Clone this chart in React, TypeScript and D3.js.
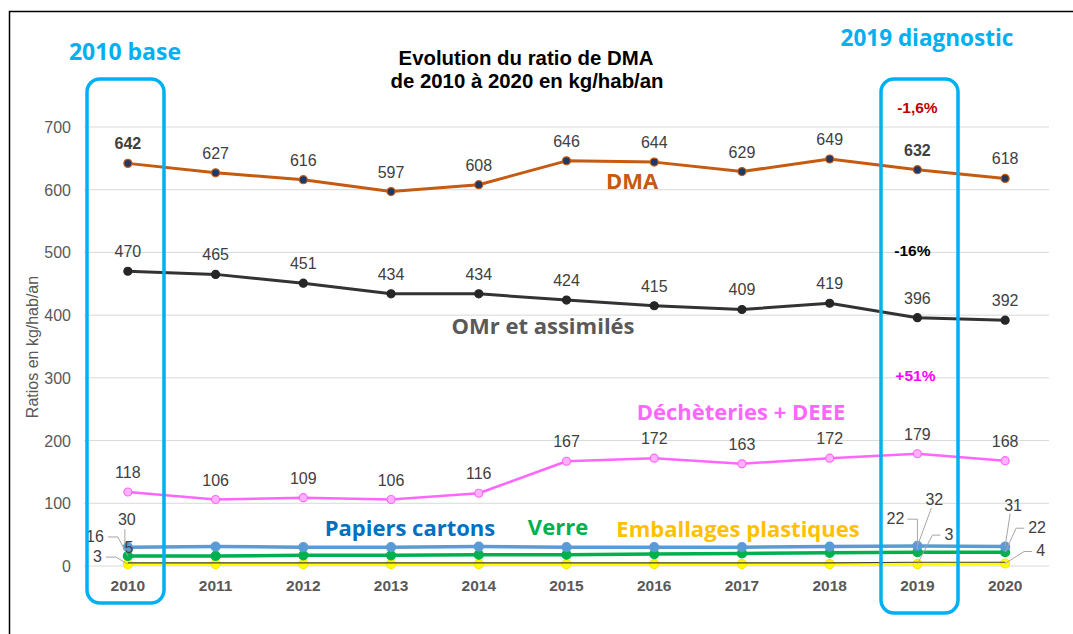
import React from "react";
import * as d3 from "d3";

const years = ["2010","2011","2012","2013","2014","2015","2016","2017","2018","2019","2020"];
const yTicks = [0, 100, 200, 300, 400, 500, 600, 700];
const dma = [642, 627, 616, 597, 608, 646, 644, 629, 649, 632, 618];
const omr = [470, 465, 451, 434, 434, 424, 415, 409, 419, 396, 392];
const decheteries = [118, 106, 109, 106, 116, 167, 172, 163, 172, 179, 168];
const papiers = [30, 31, 30, 30, 31, 30, 30, 30, 31, 32, 31];
const verre = [16, 16, 17, 17, 18, 18, 19, 20, 21, 22, 22];
const autres = [5, 5, 5, 5, 5, 5, 5, 5, 5, 6, 6];
const emballages = [3, 3, 3, 3, 3, 3, 3, 3, 3, 3, 4];

const W = 1073, H = 634;
const x = d3.scalePoint<string>().domain(years).range([84, 1049]).padding(0.5);
const y = d3.scaleLinear().domain([0, 700]).range([566, 127]);

const ARIAL = "'Liberation Sans', Arial, sans-serif";
const CAL = "'Open Sans', 'Lato', sans-serif";
const LBL = 16;

function Series({ data, color, width, fill, stroke, r }: any) {
  const line = d3.line<number>().x((_, i) => x(years[i])!).y((d) => y(d));
  return (
    <g>
      <path d={line(data) || ""} fill="none" stroke={color} strokeWidth={width} strokeLinejoin="round" />
      {r > 0 && data.map((d: number, i: number) => (
        <circle key={i} cx={x(years[i])} cy={y(d)} r={r} fill={fill} stroke={stroke} strokeWidth={1.2} />
      ))}
    </g>
  );
}

function TopLabels({ data, bold }: any) {
  return (
    <g>
      {data.map((d: number, i: number) => (
        <text key={i} x={x(years[i])} y={y(d) - 14} textAnchor="middle" fontFamily={ARIAL} fontSize={LBL}
          fill="#404040" fontWeight={bold.includes(i) ? "bold" : "normal"}>{d}</text>
      ))}
    </g>
  );
}

// leader label: label anchored at point + (dx, dy); mode chooses the leader shape
function Leader({ v, i, dx, dy, text, mode }: any) {
  const px = x(years[i])!, py = y(v);
  const lx = px + dx, ly = py + dy;
  let pts = "";
  let anchor = "start";
  if (mode === "left") {
    anchor = "end";
    pts = `${px},${py} ${lx + 14},${ly - 5} ${lx + 4},${ly - 5}`;
  } else if (mode === "leftElbow") {
    anchor = "end";
    pts = `${px},${py - 3} ${px},${ly - 5} ${lx + 3},${ly - 5}`;
  } else if (mode === "right") {
    pts = `${px},${py} ${lx - 12},${ly - 5} ${lx - 4},${ly - 5}`;
  } else if (mode === "above") {
    pts = `${px},${py} ${lx + 6},${ly + 3}`;
  }
  return (
    <g>
      <polyline points={pts} fill="none" stroke="#a6a6a6" strokeWidth={1} />
      <text x={lx} y={ly} textAnchor={anchor} fontFamily={ARIAL} fontSize={LBL} fill="#404040">{text}</text>
    </g>
  );
}

export default function App() {
  const i2010 = 0, i2019 = 9, i2020 = 10;
  const cx2019 = x("2019")!;
  return (
    <svg width={W} height={H} style={{ position: "absolute", left: 0, top: 0 }}>
      <rect x={0} y={0} width={W} height={H} fill="#fff" />
      <rect x={9.5} y={11.5} width={W + 20} height={H + 20} fill="none" stroke="#000" strokeWidth={1.5} />

      {yTicks.map((t) => (
        <g key={t}>
          <line x1={84} x2={1049} y1={y(t)} y2={y(t)} stroke="#d9d9d9" strokeWidth={1} />
          <text x={71} y={y(t) + 6} textAnchor="end" fontFamily={ARIAL} fontSize={16} fill="#595959">{t}</text>
        </g>
      ))}
      {years.map((yr) => (
        <text key={yr} x={x(yr)} y={591} textAnchor="middle" fontFamily={ARIAL} fontSize={15.5} fontWeight="bold" fill="#595959">{yr}</text>
      ))}
      <text transform="translate(38,347) rotate(-90)" textAnchor="middle" fontFamily={ARIAL} fontSize={16} fill="#595959">Ratios en kg/hab/an</text>

      <text x={526} y={65} textAnchor="middle" fontFamily={ARIAL} fontSize={20.4} fontWeight="bold" fill="#000">Evolution du ratio de DMA</text>
      <text x={527} y={88} textAnchor="middle" fontFamily={ARIAL} fontSize={20.4} fontWeight="bold" fill="#000">de 2010 à 2020 en kg/hab/an</text>

      <Series data={emballages} color="#FFFF00" width={3.5} fill="#FFFF00" stroke="#FFE600" r={4.5} />
      <Series data={autres} color="#404040" width={1.2} fill="#404040" stroke="#404040" r={0} />
      <Series data={verre} color="#00B050" width={3.5} fill="#00B050" stroke="#00B050" r={4.5} />
      <Series data={papiers} color="#5B9BD5" width={3.5} fill="#5B9BD5" stroke="#5B9BD5" r={4.5} />
      <Series data={decheteries} color="#FF66FF" width={2.5} fill="#FFB3FF" stroke="#FF66FF" r={4} />
      <Series data={omr} color="#333333" width={3} fill="#262626" stroke="#262626" r={4} />
      <Series data={dma} color="#C55A11" width={3} fill="#203864" stroke="#C55A11" r={4} />

      <TopLabels data={dma} bold={[0, 9]} />
      <TopLabels data={omr} bold={[]} />
      <TopLabels data={decheteries} bold={[]} />

      {/* small series labels */}
      <text x={x("2010")! - 1} y={y(papiers[i2010]) - 22} textAnchor="middle" fontFamily={ARIAL} fontSize={LBL} fill="#404040">{papiers[i2010]}</text>
      <line x1={x("2010")! - 3} y1={y(papiers[i2010]) - 18} x2={x("2010")! - 3} y2={y(papiers[i2010]) - 4} stroke="#a6a6a6" strokeWidth={1} />
      <text x={x("2010")! + 1} y={y(autres[i2010]) - 10} textAnchor="middle" fontFamily={ARIAL} fontSize={LBL} fill="#404040">{autres[i2010]}</text>
      <Leader v={verre[i2010]} i={i2010} dx={-24} dy={-14} text={verre[i2010]} mode="left" />
      <Leader v={emballages[i2010]} i={i2010} dx={-26} dy={-2} text={emballages[i2010]} mode="left" />
      <Leader v={verre[i2019]} i={i2019} dx={-13} dy={-28} text={verre[i2019]} mode="leftElbow" />
      <Leader v={papiers[i2019]} i={i2019} dx={8} dy={-41} text={papiers[i2019]} mode="above" />
      <Leader v={emballages[i2019]} i={i2019} dx={27} dy={-24} text={emballages[i2019]} mode="right" />
      <Leader v={papiers[i2020]} i={i2020} dx={-1} dy={-36} text={papiers[i2020]} mode="above" />
      <Leader v={verre[i2020]} i={i2020} dx={23} dy={-19} text={verre[i2020]} mode="right" />
      <Leader v={emballages[i2020]} i={i2020} dx={31} dy={-7} text={emballages[i2020]} mode="right" />

      {/* series name annotations */}
      <text x={632} y={189} textAnchor="middle" fontFamily={CAL} fontSize={22} fontWeight="bold" fill="#C55A11">DMA</text>
      <text x={543} y={334} textAnchor="middle" fontFamily={CAL} fontSize={22} fontWeight="bold" fill="#595959">OMr et assimilés</text>
      <text x={741} y={420} textAnchor="middle" fontFamily={CAL} fontSize={22} fontWeight="bold" fill="#FF66FF">Déchèteries + DEEE</text>
      <text x={410} y={536} textAnchor="middle" fontFamily={CAL} fontSize={22} fontWeight="bold" fill="#0070C0">Papiers cartons</text>
      <text x={558} y={535} textAnchor="middle" fontFamily={CAL} fontSize={22} fontWeight="bold" fill="#00B050">Verre</text>
      <text x={738} y={537} textAnchor="middle" fontFamily={CAL} fontSize={22} fontWeight="bold" fill="#FFC000">Emballages plastiques</text>

      <text x={cx2019} y={113} textAnchor="middle" fontFamily={ARIAL} fontSize={15.5} fontWeight="bold" fill="#C00000">-1,6%</text>
      <text x={cx2019 - 5} y={256} textAnchor="middle" fontFamily={ARIAL} fontSize={15.5} fontWeight="bold" fill="#000">-16%</text>
      <text x={cx2019 - 2} y={381} textAnchor="middle" fontFamily={ARIAL} fontSize={15.5} fontWeight="bold" fill="#FF00FF">+51%</text>

      {/* highlight boxes */}
      <rect x={87} y={79} width={77} height={524} rx={13} fill="none" stroke="#00B0F0" strokeWidth={3.5} />
      <rect x={881} y={79} width={77} height={534} rx={13} fill="none" stroke="#00B0F0" strokeWidth={3.5} />
      <text x={125} y={60} textAnchor="middle" fontFamily={CAL} fontSize={23} fontWeight="bold" fill="#00B0F0">2010 base</text>
      <text x={927} y={46} textAnchor="middle" fontFamily={CAL} fontSize={22.5} fontWeight="bold" fill="#00B0F0">2019 diagnostic</text>
    </svg>
  );
}
